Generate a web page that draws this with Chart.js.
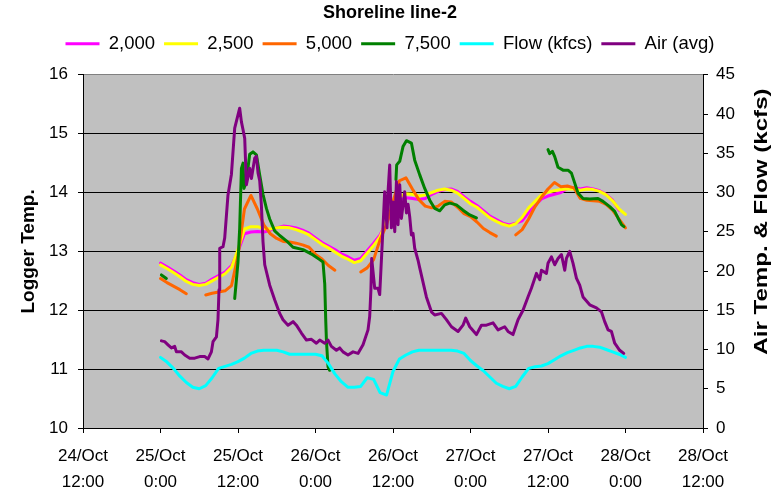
<!DOCTYPE html>
<html>
<head>
<meta charset="utf-8">
<title>Shoreline line-2</title>
<script src="https://cdn.jsdelivr.net/npm/chart.js@4/dist/chart.umd.min.js"></script>
<style>
  html, body { margin: 0; padding: 0; background: #ffffff; }
  canvas { display: block; }
</style>
</head>
<body>
<canvas id="chart" width="780" height="493"></canvas>
<script>
// Time is in hours counted from 24/Oct 0:00.
const hours = [24, 25, 26, 27, 28, 29, 30, 31, 32, 33, 34, 35, 36, 37, 38, 39, 40, 41, 42, 43, 44, 45, 46, 47, 48,
  49, 50, 51, 52, 53, 54, 55, 56, 57, 58, 59, 60, 61, 62, 63, 64, 65, 66, 67, 68, 69, 70, 71, 72,
  73, 74, 75, 76, 77, 78, 79, 80, 81, 82, 83, 84, 85, 86, 87, 88, 89, 90, 91, 92, 93, 94, 95, 96];

// Logger temperatures (left axis)
const t2000 = [12.80, 12.74, 12.67, 12.60, 12.52, 12.47, 12.44, 12.46, 12.53, 12.59, 12.65, 12.76, 13.00, 13.30, 13.33, 13.34, 13.33, 13.36, 13.40, 13.43, 13.42, 13.40, 13.36, 13.31, 13.23,
  13.15, 13.09, 13.03, 12.96, 12.91, 12.85, 12.88, 13.01, 13.14, 13.28, 13.50, 13.70, 13.87, 13.91, 13.90, 13.88, 13.90, 13.97, 14.02, 14.05, 14.06, 14.02, 13.93, 13.85,
  13.78, 13.69, 13.60, 13.54, 13.48, 13.45, 13.48, 13.52, 13.66, 13.78, 13.89, 13.94, 13.97, 14.00, 14.07, 14.08, 14.06, 14.08, 14.06, 14.03, 13.97, 13.87, 13.70, null];

const t2500 = [12.77, 12.71, 12.64, 12.57, 12.49, 12.44, 12.42, 12.44, 12.50, 12.56, 12.62, 12.73, 13.03, 13.38, 13.42, 13.42, 13.39, 13.38, 13.40, 13.41, 13.40, 13.37, 13.33, 13.28, 13.20,
  13.12, 13.06, 12.99, 12.92, 12.87, 12.81, 12.84, 12.97, 13.10, 13.25, 13.53, 13.75, 13.93, 13.98, 13.97, 13.94, 13.96, 14.00, 14.04, 14.06, 14.04, 13.99, 13.90, 13.81,
  13.75, 13.66, 13.57, 13.51, 13.46, 13.43, 13.47, 13.58, 13.74, 13.85, 13.96, 14.01, 14.03, 14.05, 14.06, 14.06, 14.04, 14.06, 14.05, 14.02, 13.96, 13.86, 13.72, 13.63];

const t5000 = [12.54, 12.47, 12.41, 12.35, 12.28, null, null, 12.26, 12.29, 12.31, 12.33, 12.42, 12.93, 13.72, 13.95, 13.72, 13.45, 13.30, 13.22, 13.17, 13.16, 13.14, 13.11, 13.07, 12.95,
  12.87, 12.76, 12.68, null, null, null, 12.65, 12.72, 12.86, 13.20, 13.45, 13.85, 14.20, 14.25, 14.06, 13.88, 13.77, 13.74, 13.77, 13.85, 13.84, 13.75, 13.64, 13.59,
  13.50, 13.39, 13.32, 13.26, null, null, 13.28, 13.37, 13.55, 13.76, 13.92, 14.06, 14.17, 14.10, 14.11, 14.08, 13.90, 13.87, 13.86, 13.85, 13.80, 13.70, 13.55, 13.40];

// 7,500 logger: its own time stamps, with gaps where it stopped recording
const t7500Hours = [24.14, 24.91, 30,
  35.49, 36.00, 36.26, 36.53, 36.78, 36.93, 37.30, 37.81, 38.32, 38.85, 39.36, 39.87, 40.40, 40.91, 41.68, 42.46, 43.50, 44.52, 46.07, 47.61, 48.65, 49.16, 49.43, 49.58, 49.69, 49.94, 50.20, 55,
  60.46, 60.57, 61.04, 61.55, 62.08, 62.85, 63.36, 64.14, 64.91, 65.69, 66.46, 67.24, 68.01, 68.78, 69.82, 70.84, 71.88, 72.92, 78,
  84.00, 84.26, 84.68, 85.04, 85.55, 86.33, 87.10, 87.63, 88.14, 88.65, 89.42, 90.46, 91.75, 92.52, 93.56, 94.33, 94.87, 95.40, 95.76];
const t7500 = [12.60, 12.54, null,
  12.20, 12.82, 13.39, 14.41, 14.50, 14.07, 14.20, 14.65, 14.69, 14.64, 14.30, 13.97, 13.73, 13.55, 13.35, 13.27, 13.18, 13.07, 13.03, 12.94, 12.86, 12.82, 12.45, 11.85, 11.49, 11.04, 10.98, null,
  14.22, 14.47, 14.53, 14.78, 14.88, 14.84, 14.55, 14.30, 14.07, 13.87, 13.73, 13.69, 13.79, 13.82, 13.79, 13.70, 13.62, 13.57, null,
  14.73, 14.66, 14.70, 14.61, 14.43, 14.38, 14.38, 14.33, 14.16, 13.99, 13.90, 13.89, 13.90, 13.85, 13.76, 13.68, 13.56, 13.45, 13.42];

// River flow, kcfs (right axis)
const flow = [9.0, 8.4, 7.6, 6.6, 5.8, 5.2, 5.0, 5.4, 6.4, 7.6, 7.85, 8.1, 8.45, 8.9, 9.5, 9.8, 9.9, 9.9, 9.9, 9.7, 9.4, 9.4, 9.4, 9.4, 9.4,
  9.2, 8.2, 6.9, 5.9, 5.2, 5.2, 5.3, 6.4, 6.2, 4.5, 4.2, 7.2, 8.8, 9.3, 9.7, 9.9, 9.9, 9.9, 9.9, 9.9, 9.9, 9.8, 9.5, 8.6,
  7.9, 7.3, 6.5, 5.7, 5.3, 5.0, 5.3, 6.5, 7.6, 7.8, 7.9, 8.2, 8.7, 9.2, 9.6, 9.9, 10.2, 10.4, 10.4, 10.3, 10.0, 9.7, 9.4, 9.0];

// Average air temperature (right axis), irregular time stamps
const airHours = [24.14, 24.65, 25.16, 25.69, 26.20, 26.46, 27.24, 27.75, 28.52, 29.30, 30.07, 30.84, 31.36, 31.88, 32.13, 32.66, 32.90, 33.06, 33.17, 33.68,
  33.94, 34.45, 34.98, 35.49, 36.00, 36.26, 36.53, 36.78, 37.04, 37.30, 37.55, 37.81, 38.08, 38.59, 38.85, 39.10, 39.36, 39.62, 39.87, 40.14,
  40.91, 41.69, 42.46, 42.97, 43.74, 44.52, 45.04, 45.82, 46.60, 47.37, 48.14, 48.65, 49.43, 49.94, 50.46, 51.24, 51.75, 52.26, 53.03, 53.81,
  54.58, 55.36, 56.13, 56.39, 56.58, 56.70, 57.17, 57.68, 57.94, 58.45, 58.71, 59.07, 59.23, 59.49, 59.75, 60.00, 60.27, 60.53, 60.78, 61.04,
  61.30, 61.81, 62.08, 62.33, 62.59, 62.85, 63.10, 63.36, 63.87, 64.14, 65.17, 65.95, 66.46, 67.50, 68.27, 69.05, 70.07, 70.84, 71.26, 71.88,
  72.92, 73.69, 74.47, 75.49, 76.26, 77.30, 77.81, 78.58, 79.36, 80.13, 80.90, 81.43, 82.21, 82.72, 82.98, 83.76, 84.00, 84.53, 85.04, 85.55,
  86.08, 86.59, 86.85, 87.36, 87.87, 88.40, 88.91, 89.42, 90.46, 91.50, 92.27, 92.78, 93.30, 93.82, 94.33, 95.10, 95.73];
const airTemp = [11.1, 11.0, 10.6, 10.2, 10.4, 9.7, 9.7, 9.3, 8.9, 8.9, 9.1, 9.1, 8.8, 9.7, 11.0, 11.6, 13.8, 17.6, 22.9, 23.1,
  24.2, 29.7, 32.3, 38.2, 39.9, 40.75, 39.0, 38.0, 36.9, 31.0, 32.0, 33.1, 31.8, 34.4, 34.6, 32.5, 31.5, 28.4, 23.75, 20.8,
  18.2, 16.3, 14.6, 13.8, 13.1, 13.55, 13.1, 12.1, 11.2, 11.3, 10.8, 11.2, 10.8, 11.2, 10.4, 9.9, 10.2, 9.7, 9.3, 9.7,
  9.5, 10.6, 12.5, 14.2, 17.6, 21.6, 17.8, 17.8, 17.0, 25.5, 30.1, 25.5, 30.1, 33.5, 25.5, 28.8, 25.0, 31.4, 25.9, 31.0,
  26.7, 30.1, 27.4, 28.5, 26.9, 24.6, 24.8, 22.9, 21.4, 20.4, 16.7, 14.8, 14.4, 14.6, 13.8, 12.9, 12.3, 13.1, 14.0, 12.9,
  11.9, 13.1, 13.1, 13.4, 12.5, 12.9, 12.3, 11.9, 13.8, 15.0, 16.7, 17.8, 19.7, 18.9, 20.1, 19.7, 21.0, 21.8, 20.8, 21.6,
  22.1, 20.1, 21.6, 22.5, 21.0, 19.1, 18.2, 16.7, 15.7, 15.3, 14.8, 13.55, 12.5, 12.3, 10.8, 9.9, 9.5];

// Axis tick labels, one pair per 12 hours from 24/Oct 12:00
const tickDays = ['24/Oct', '25/Oct', '25/Oct', '26/Oct', '26/Oct', '27/Oct', '27/Oct', '28/Oct', '28/Oct'];
const tickTimes = ['12:00', '0:00', '12:00', '0:00', '12:00', '0:00', '12:00', '0:00', '12:00'];
const rightAxisTitle = 'Air Temp. & Flow (kcfs)';

const FONT = "'Liberation Sans', Arial, Helvetica, sans-serif";
Chart.defaults.font.family = FONT;
Chart.defaults.color = '#000000';

const pairs = (xs, ys) => xs.map((x, i) => ({ x: x, y: ys[i] }));

function series(label, xs, ys, color, axis, order) {
  return {
    label: label,
    data: pairs(xs, ys),
    borderColor: color,
    backgroundColor: color,
    borderWidth: 3,
    pointRadius: 0,
    fill: false,
    tension: 0,
    spanGaps: false,
    borderJoinStyle: 'round',
    borderCapStyle: 'round',
    yAxisID: axis,
    order: order
  };
}

// Grey plot background behind grid and lines
const plotBackground = {
  id: 'plotBackground',
  beforeDraw(chart) {
    const a = chart.chartArea;
    const ctx = chart.ctx;
    ctx.save();
    ctx.fillStyle = '#C0C0C0';
    ctx.fillRect(a.left, a.top, a.right - a.left, a.bottom - a.top);
    ctx.restore();
  }
};

// Secondary-axis title, drawn elongated and set a little above the axis middle
const rightTitle = {
  id: 'rightTitle',
  afterDraw(chart) {
    const s = chart.scales.y1;
    const ctx = chart.ctx;
    ctx.save();
    ctx.translate(s.right - 18, s.getPixelForValue(26.3));
    ctx.rotate(-Math.PI / 2);
    ctx.scale(1.27, 1);
    ctx.font = 'bold 19px ' + FONT;
    ctx.fillStyle = '#000000';
    ctx.textAlign = 'center';
    ctx.textBaseline = 'middle';
    ctx.fillText(rightAxisTitle, 0, 0);
    ctx.restore();
  }
};

new Chart(document.getElementById('chart'), {
  type: 'line',
  data: {
    datasets: [
      series('2,000', hours, t2000, '#FF00FF', 'y', 5),
      series('2,500', hours, t2500, '#FFFF00', 'y', 4),
      series('5,000', hours, t5000, '#FF6600', 'y', 3),
      series('7,500', t7500Hours, t7500, '#008000', 'y', 2),
      series('Flow (kfcs)', hours, flow, '#00FFFF', 'y1', 1),
      series('Air (avg)', airHours, airTemp, '#800080', 'y1', 0)
    ]
  },
  options: {
    responsive: false,
    animation: false,
    events: [],
    layout: { padding: 0 },
    plugins: {
      title: {
        display: true,
        text: 'Shoreline line-2',
        color: '#000000',
        font: { family: FONT, size: 18, weight: 'bold', lineHeight: 1.2 },
        padding: { top: 2, bottom: 2 }
      },
      subtitle: {
        display: true,
        text: ' ',
        position: 'top',
        font: { size: 10, lineHeight: 1 },
        padding: { top: 0, bottom: 1.7 }
      },
      legend: {
        display: true,
        position: 'top',
        weight: 1600,
        labels: {
          boxWidth: 34,
          boxHeight: 3,
          padding: 9,
          color: '#000000',
          font: { family: FONT, size: 18.5 },
          sort: (a, b) => a.datasetIndex - b.datasetIndex,
          generateLabels(chart) {
            const items = Chart.defaults.plugins.legend.labels.generateLabels(chart);
            items.forEach(it => { it.fillStyle = it.strokeStyle; it.lineWidth = 0; });
            return items;
          }
        }
      },
      tooltip: { enabled: false }
    },
    scales: {
      x: {
        type: 'linear',
        min: 12,
        max: 108,
        afterFit(scale) { scale.height = 65; },
        ticks: {
          stepSize: 12,
          autoSkip: false,
          maxRotation: 0,
          padding: 11,
          color: '#000000',
          font: { family: FONT, size: 17, lineHeight: 1.5 },
          callback(value) {
            const i = Math.round((value - 12) / 12);
            return [tickDays[i], tickTimes[i]];
          }
        },
        grid: { drawOnChartArea: false, color: '#000000', tickLength: 5, lineWidth: 1 },
        border: { color: '#000000', width: 1 }
      },
      y: {
        position: 'left',
        min: 10,
        max: 16,
        afterFit(scale) { scale.width = 83; },
        ticks: { stepSize: 1, padding: 10, color: '#000000', font: { family: FONT, size: 17 } },
        grid: {
          color: ctx => (ctx.tick && ctx.tick.value === 16) ? '#808080' : '#000000',
          tickColor: '#000000',
          tickLength: 5,
          lineWidth: 1
        },
        border: { color: '#000000', width: 1 },
        title: {
          display: true,
          text: 'Logger Temp.',
          color: '#000000',
          font: { family: FONT, size: 19, weight: 'bold', lineHeight: 1.2 },
          padding: { top: 17.6, bottom: 0 }
        }
      },
      y1: {
        position: 'right',
        min: 0,
        max: 45,
        afterFit(scale) { scale.width = 77; },
        ticks: { stepSize: 5, padding: 8, color: '#000000', font: { family: FONT, size: 17 } },
        grid: { drawOnChartArea: false, color: '#000000', tickLength: 5, lineWidth: 1 },
        border: { color: '#000000', width: 1 },
        title: { display: false }
      }
    }
  },
  plugins: [plotBackground, rightTitle]
});
</script>
</body>
</html>
